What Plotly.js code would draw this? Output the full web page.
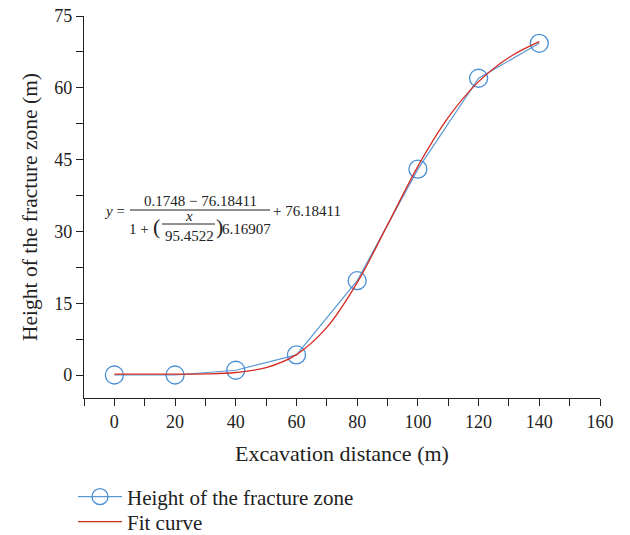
<!DOCTYPE html>
<html><head><meta charset="utf-8">
<script src="https://cdn.plot.ly/plotly-3.0.1.min.js"></script>
<style>html,body{margin:0;padding:0;background:#fff}#chart{width:630px;height:535px}
.legendtext{font-family:"Liberation Serif", serif !important;}</style>
</head><body><div id="chart"></div>
<script>
var distance = [0, 20, 40, 60, 80, 100, 120, 140];
var height = [0, 0, 1.0, 4.2, 19.7, 43.0, 62.0, 69.3];
var fitX = [0, 10, 20, 30, 40, 50, 60, 70, 80, 90, 100, 110, 120, 130, 140];
var fitY = [0.17, 0.17, 0.18, 0.23, 0.53, 1.55, 4.27, 9.94, 19.3, 31.36, 43.6, 53.82, 61.29, 66.34, 69.64];
var xTicks = [0, 20, 40, 60, 80, 100, 120, 140, 160];
var yTicks = [0, 15, 30, 45, 60, 75];

var F = "Liberation Serif, Times New Roman, serif";
var W = 630, H = 535;
var L = 84, R = 600, T = 16, B = 398;
function px(x){return (x-L)/(R-L);}
function py(y){return (B-y)/(B-T);}
function ann(text,x,y,opts){
  var a = {text:text, xref:'paper', yref:'paper', x:px(x), y:py(y), showarrow:false,
    xanchor:'center', yanchor:'middle', font:{family:F, size:15, color:'#222'}};
  for (var k in opts) a[k]=opts[k];
  return a;
}
function legendAt(yPix){
  return {xref:'container', yref:'container', x:73/W, y:(H-yPix)/H, xanchor:'left', yanchor:'middle',
    orientation:'h', font:{family:F, size:21, color:'#222'}, bgcolor:'rgba(0,0,0,0)', itemwidth:44};
}
var traces = [
  {x: distance, y: height, type:'scatter', mode:'lines+markers', name:'Height of the fracture zone',
   legend:'legend',
   line:{color:'#5b9bd5', width:1.2},
   marker:{symbol:'circle-open', size:18, color:'#4a8fd6', line:{width:1.3, color:'#4a8fd6'}}},
  {x: fitX, y: fitY, type:'scatter', mode:'lines', name:'Fit curve',
   legend:'legend2',
   line:{color:'#d42a20', width:1.3, shape:'spline'}}
];
var layout = {
  width:W, height:H,
  margin:{l:L, r:W-R, t:T, b:H-B},
  paper_bgcolor:'#fff', plot_bgcolor:'#fff',
  font:{family:F, size:18, color:'#222'},
  showlegend:true,
  legend: legendAt(497),
  legend2: legendAt(522),
  xaxis:{range:[-10,160], tickvals:xTicks, ticks:'outside', ticklen:7, tickcolor:'#222',
    showline:true, linecolor:'#222', linewidth:1.2, showgrid:false, zeroline:false,
    tickfont:{family:F, size:18},
    minor:{dtick:10, tick0:0, ticks:'outside', ticklen:7, tickcolor:'#222', showgrid:false},
    title:{text:'Excavation distance (m)', font:{family:F, size:22}, standoff:14}},
  yaxis:{range:[-4.8,75], tickvals:yTicks, ticks:'outside', ticklen:7, tickcolor:'#222',
    showline:true, linecolor:'#222', linewidth:1.2, showgrid:false, zeroline:false,
    tickfont:{family:F, size:18},
    minor:{dtick:7.5, tick0:0, ticks:'outside', ticklen:7, tickcolor:'#222', showgrid:false},
    title:{text:'Height of the fracture zone (m)', font:{family:F, size:21.5}, standoff:10}},
  annotations:[
    ann('<i>y</i> =', 114, 211),
    ann('0.1748 − 76.18411', 200, 201),
    ann('1 +', 139, 229),
    ann('(', 156, 227, {font:{family:F, size:22, color:'#222'}}),
    ann('<i>x</i>', 189, 216),
    ann('95.4522', 189, 236),
    ann(')', 219, 227, {font:{family:F, size:22, color:'#222'}}),
    ann('6.16907', 246, 229),
    ann('+ 76.18411', 307, 211)
  ],
  shapes:[
    {type:'line', xref:'paper', yref:'paper', x0:px(130), x1:px(270), y0:py(210), y1:py(210), line:{color:'#222', width:1.2}},
    {type:'line', xref:'paper', yref:'paper', x0:px(162), x1:px(215), y0:py(224), y1:py(224), line:{color:'#222', width:1}}
  ]
};
Plotly.newPlot('chart', traces, layout, {displayModeBar:false, staticPlot:true});
</script></body></html>
